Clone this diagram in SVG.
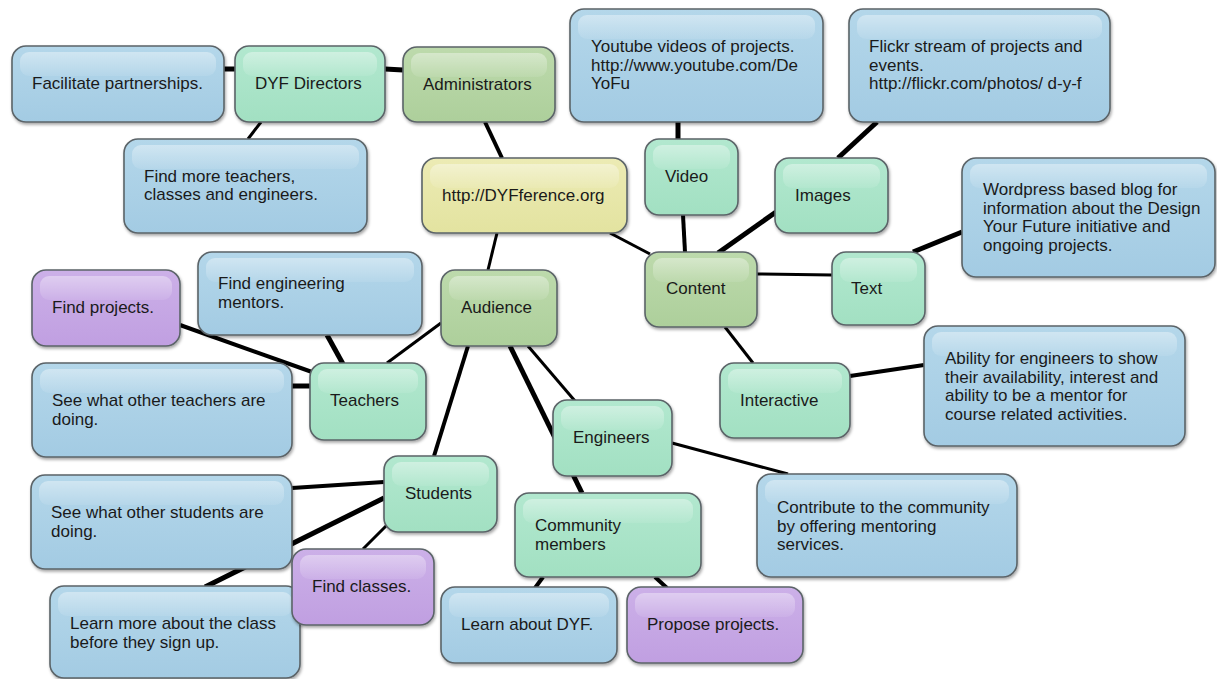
<svg xmlns="http://www.w3.org/2000/svg" width="1217" height="679" viewBox="0 0 1217 679">
<defs>
<linearGradient id="gBlue" x1="0" y1="0" x2="0" y2="1"><stop offset="0" stop-color="#b4d7ea"/><stop offset="1" stop-color="#a3cbe3"/></linearGradient>
<linearGradient id="gMint" x1="0" y1="0" x2="0" y2="1"><stop offset="0" stop-color="#b2e8cf"/><stop offset="1" stop-color="#a2e0c2"/></linearGradient>
<linearGradient id="gOlive" x1="0" y1="0" x2="0" y2="1"><stop offset="0" stop-color="#bddaac"/><stop offset="1" stop-color="#adcf9b"/></linearGradient>
<linearGradient id="gYellow" x1="0" y1="0" x2="0" y2="1"><stop offset="0" stop-color="#ecebb4"/><stop offset="1" stop-color="#e3e3a0"/></linearGradient>
<linearGradient id="gPurple" x1="0" y1="0" x2="0" y2="1"><stop offset="0" stop-color="#ccb0e8"/><stop offset="1" stop-color="#c09fe1"/></linearGradient>
<linearGradient id="gHi" x1="0" y1="0" x2="0" y2="1"><stop offset="0" stop-color="#ffffff" stop-opacity="0.38"/><stop offset="1" stop-color="#ffffff" stop-opacity="0.08"/></linearGradient>
<filter id="sh" x="-10%" y="-10%" width="125%" height="130%"><feDropShadow dx="1" dy="2" stdDeviation="1.5" flood-color="#000" flood-opacity="0.35"/></filter>
</defs>
<style>
.box{stroke:#5b6468;stroke-width:1.6;filter:url(#sh)}
.blue{fill:url(#gBlue)}
.mint{fill:url(#gMint)}
.olive{fill:url(#gOlive)}
.yellow{fill:url(#gYellow)}
.purple{fill:url(#gPurple)}
.hi{fill:url(#gHi)}
text{font-family:"Liberation Sans",Arial,sans-serif;font-size:17px;fill:#1a1a1a}
.c{stroke:#000;stroke-linecap:butt;fill:none}
</style>
<rect width="1217" height="679" fill="#ffffff"/>
<g id="connectors">
<line class="c" x1="224" y1="69" x2="235" y2="69" stroke-width="5"/>
<line class="c" x1="385" y1="69" x2="403" y2="70" stroke-width="5"/>
<line class="c" x1="261" y1="122" x2="248" y2="139" stroke-width="3"/>
<line class="c" x1="485" y1="122" x2="502" y2="158" stroke-width="4"/>
<line class="c" x1="497" y1="233" x2="488" y2="270" stroke-width="3"/>
<line class="c" x1="610" y1="233" x2="650" y2="254" stroke-width="3"/>
<line class="c" x1="678" y1="122" x2="678" y2="139" stroke-width="5"/>
<line class="c" x1="683" y1="215" x2="685" y2="252" stroke-width="4"/>
<line class="c" x1="776" y1="212" x2="718" y2="253" stroke-width="5"/>
<line class="c" x1="838" y1="158" x2="877" y2="122" stroke-width="5"/>
<line class="c" x1="757" y1="274" x2="832" y2="275" stroke-width="3"/>
<line class="c" x1="913" y1="252" x2="962" y2="232" stroke-width="5"/>
<line class="c" x1="725" y1="327" x2="753" y2="363" stroke-width="3"/>
<line class="c" x1="850" y1="376" x2="924" y2="365" stroke-width="4"/>
<line class="c" x1="672" y1="443" x2="788" y2="474" stroke-width="3"/>
<line class="c" x1="510" y1="346" x2="582" y2="493" stroke-width="5"/>
<line class="c" x1="528" y1="346" x2="575" y2="401" stroke-width="3"/>
<line class="c" x1="441" y1="323" x2="387" y2="363" stroke-width="3"/>
<line class="c" x1="468" y1="346" x2="434" y2="456" stroke-width="4"/>
<line class="c" x1="327" y1="335" x2="343" y2="364" stroke-width="5"/>
<line class="c" x1="180" y1="325" x2="312" y2="372" stroke-width="4"/>
<line class="c" x1="292" y1="386" x2="310" y2="386" stroke-width="5"/>
<line class="c" x1="292" y1="488" x2="384" y2="482" stroke-width="4"/>
<line class="c" x1="384" y1="498" x2="205" y2="587" stroke-width="5"/>
<line class="c" x1="387" y1="525" x2="363" y2="549" stroke-width="3"/>
<line class="c" x1="543" y1="577" x2="535" y2="588" stroke-width="4"/>
<line class="c" x1="655" y1="577" x2="667" y2="588" stroke-width="4"/>
</g>
<g id="n-facilitate"><rect class="box blue" x="12" y="46" width="212" height="76" rx="14"/><rect class="hi" x="20" y="52" width="196" height="24" rx="9"/><text x="32" y="89">Facilitate partnerships.</text></g>
<g id="n-directors"><rect class="box mint" x="235" y="46" width="150" height="76" rx="14"/><rect class="hi" x="243" y="52" width="134" height="24" rx="9"/><text x="255" y="89">DYF Directors</text></g>
<g id="n-findmore"><rect class="box blue" x="124" y="139" width="243" height="94" rx="14"/><rect class="hi" x="132" y="145" width="227" height="24" rx="9"/><text x="144" y="182">Find more teachers,</text><text x="144" y="200">classes and engineers.</text></g>
<g id="n-admin"><rect class="box olive" x="403" y="47" width="152" height="75" rx="14"/><rect class="hi" x="411" y="53" width="136" height="24" rx="9"/><text x="423" y="89.5">Administrators</text></g>
<g id="n-youtube"><rect class="box blue" x="570" y="9" width="253" height="113" rx="14"/><rect class="hi" x="578" y="15" width="237" height="24" rx="9"/><text x="591" y="52">Youtube videos of projects.</text><text x="591" y="70.5">http://www.youtube.com/De</text><text x="591" y="89">YoFu</text></g>
<g id="n-flickr"><rect class="box blue" x="849" y="9" width="261" height="113" rx="14"/><rect class="hi" x="857" y="15" width="245" height="24" rx="9"/><text x="869" y="52">Flickr stream of projects and</text><text x="869" y="70.5">events.</text><text x="869" y="89">http://flickr.com/photos/ d-y-f</text></g>
<g id="n-root"><rect class="box yellow" x="422" y="158" width="205" height="75" rx="14"/><rect class="hi" x="430" y="164" width="189" height="24" rx="9"/><text x="442" y="200.5">http://DYFference.org</text></g>
<g id="n-video"><rect class="box mint" x="645" y="139" width="93" height="76" rx="14"/><rect class="hi" x="653" y="145" width="77" height="24" rx="9"/><text x="665" y="182">Video</text></g>
<g id="n-images"><rect class="box mint" x="775" y="158" width="113" height="75" rx="14"/><rect class="hi" x="783" y="164" width="97" height="24" rx="9"/><text x="795" y="200.5">Images</text></g>
<g id="n-wordpress"><rect class="box blue" x="962" y="158" width="253" height="119" rx="14"/><rect class="hi" x="970" y="164" width="237" height="24" rx="9"/><text x="983" y="195">Wordpress based blog for</text><text x="983" y="213.5">information about the Design</text><text x="983" y="232">Your Future initiative and</text><text x="983" y="250.5">ongoing projects.</text></g>
<g id="n-text"><rect class="box mint" x="832" y="252" width="93" height="73" rx="14"/><rect class="hi" x="840" y="258" width="77" height="24" rx="9"/><text x="851" y="293.5">Text</text></g>
<g id="n-content"><rect class="box olive" x="645" y="252" width="112" height="75" rx="14"/><rect class="hi" x="653" y="258" width="96" height="24" rx="9"/><text x="666" y="294">Content</text></g>
<g id="n-findprojects"><rect class="box purple" x="32" y="270" width="148" height="76" rx="14"/><rect class="hi" x="40" y="276" width="132" height="24" rx="9"/><text x="52" y="313">Find projects.</text></g>
<g id="n-mentors"><rect class="box blue" x="198" y="252" width="224" height="83" rx="14"/><rect class="hi" x="206" y="258" width="208" height="24" rx="9"/><text x="218" y="289">Find engineering</text><text x="218" y="307.5">mentors.</text></g>
<g id="n-audience"><rect class="box olive" x="441" y="270" width="116" height="76" rx="14"/><rect class="hi" x="449" y="276" width="100" height="24" rx="9"/><text x="461" y="313">Audience</text></g>
<g id="n-seeteachers"><rect class="box blue" x="32" y="363" width="260" height="94" rx="14"/><rect class="hi" x="40" y="369" width="244" height="24" rx="9"/><text x="52" y="406">See what other teachers are</text><text x="52" y="424.5">doing.</text></g>
<g id="n-teachers"><rect class="box mint" x="310" y="363" width="116" height="77" rx="14"/><rect class="hi" x="318" y="369" width="100" height="24" rx="9"/><text x="330" y="406">Teachers</text></g>
<g id="n-interactive"><rect class="box mint" x="720" y="363" width="130" height="75" rx="14"/><rect class="hi" x="728" y="369" width="114" height="24" rx="9"/><text x="740" y="405.5">Interactive</text></g>
<g id="n-ability"><rect class="box blue" x="924" y="326" width="261" height="120" rx="14"/><rect class="hi" x="932" y="332" width="245" height="24" rx="9"/><text x="945" y="364">Ability for engineers to show</text><text x="945" y="382.5">their availability, interest and</text><text x="945" y="401">ability to be a mentor for</text><text x="945" y="419.5">course related activities.</text></g>
<g id="n-engineers"><rect class="box mint" x="553" y="400" width="119" height="76" rx="14"/><rect class="hi" x="561" y="406" width="103" height="24" rx="9"/><text x="573" y="443">Engineers</text></g>
<g id="n-contribute"><rect class="box blue" x="757" y="474" width="260" height="103" rx="14"/><rect class="hi" x="765" y="480" width="244" height="24" rx="9"/><text x="777" y="513">Contribute to the community</text><text x="777" y="531.5">by offering mentoring</text><text x="777" y="550">services.</text></g>
<g id="n-seestudents"><rect class="box blue" x="31" y="475" width="261" height="94" rx="14"/><rect class="hi" x="39" y="481" width="245" height="24" rx="9"/><text x="51" y="518">See what other students are</text><text x="51" y="536.5">doing.</text></g>
<g id="n-students"><rect class="box mint" x="384" y="456" width="113" height="76" rx="14"/><rect class="hi" x="392" y="462" width="97" height="24" rx="9"/><text x="405" y="499">Students</text></g>
<g id="n-learnmore"><rect class="box blue" x="50" y="586" width="250" height="92" rx="14"/><rect class="hi" x="58" y="592" width="234" height="24" rx="9"/><text x="70" y="629">Learn more about the class</text><text x="70" y="647.5">before they sign up.</text></g>
<g id="n-findclasses"><rect class="box purple" x="292" y="549" width="142" height="76" rx="14"/><rect class="hi" x="300" y="555" width="126" height="24" rx="9"/><text x="312" y="592">Find classes.</text></g>
<g id="n-community"><rect class="box mint" x="515" y="493" width="186" height="84" rx="14"/><rect class="hi" x="523" y="499" width="170" height="24" rx="9"/><text x="535" y="531">Community</text><text x="535" y="549.5">members</text></g>
<g id="n-learndyf"><rect class="box blue" x="441" y="587" width="176" height="76" rx="14"/><rect class="hi" x="449" y="593" width="160" height="24" rx="9"/><text x="461" y="630">Learn about DYF.</text></g>
<g id="n-propose"><rect class="box purple" x="627" y="587" width="176" height="76" rx="14"/><rect class="hi" x="635" y="593" width="160" height="24" rx="9"/><text x="647" y="630">Propose projects.</text></g>
</svg>
